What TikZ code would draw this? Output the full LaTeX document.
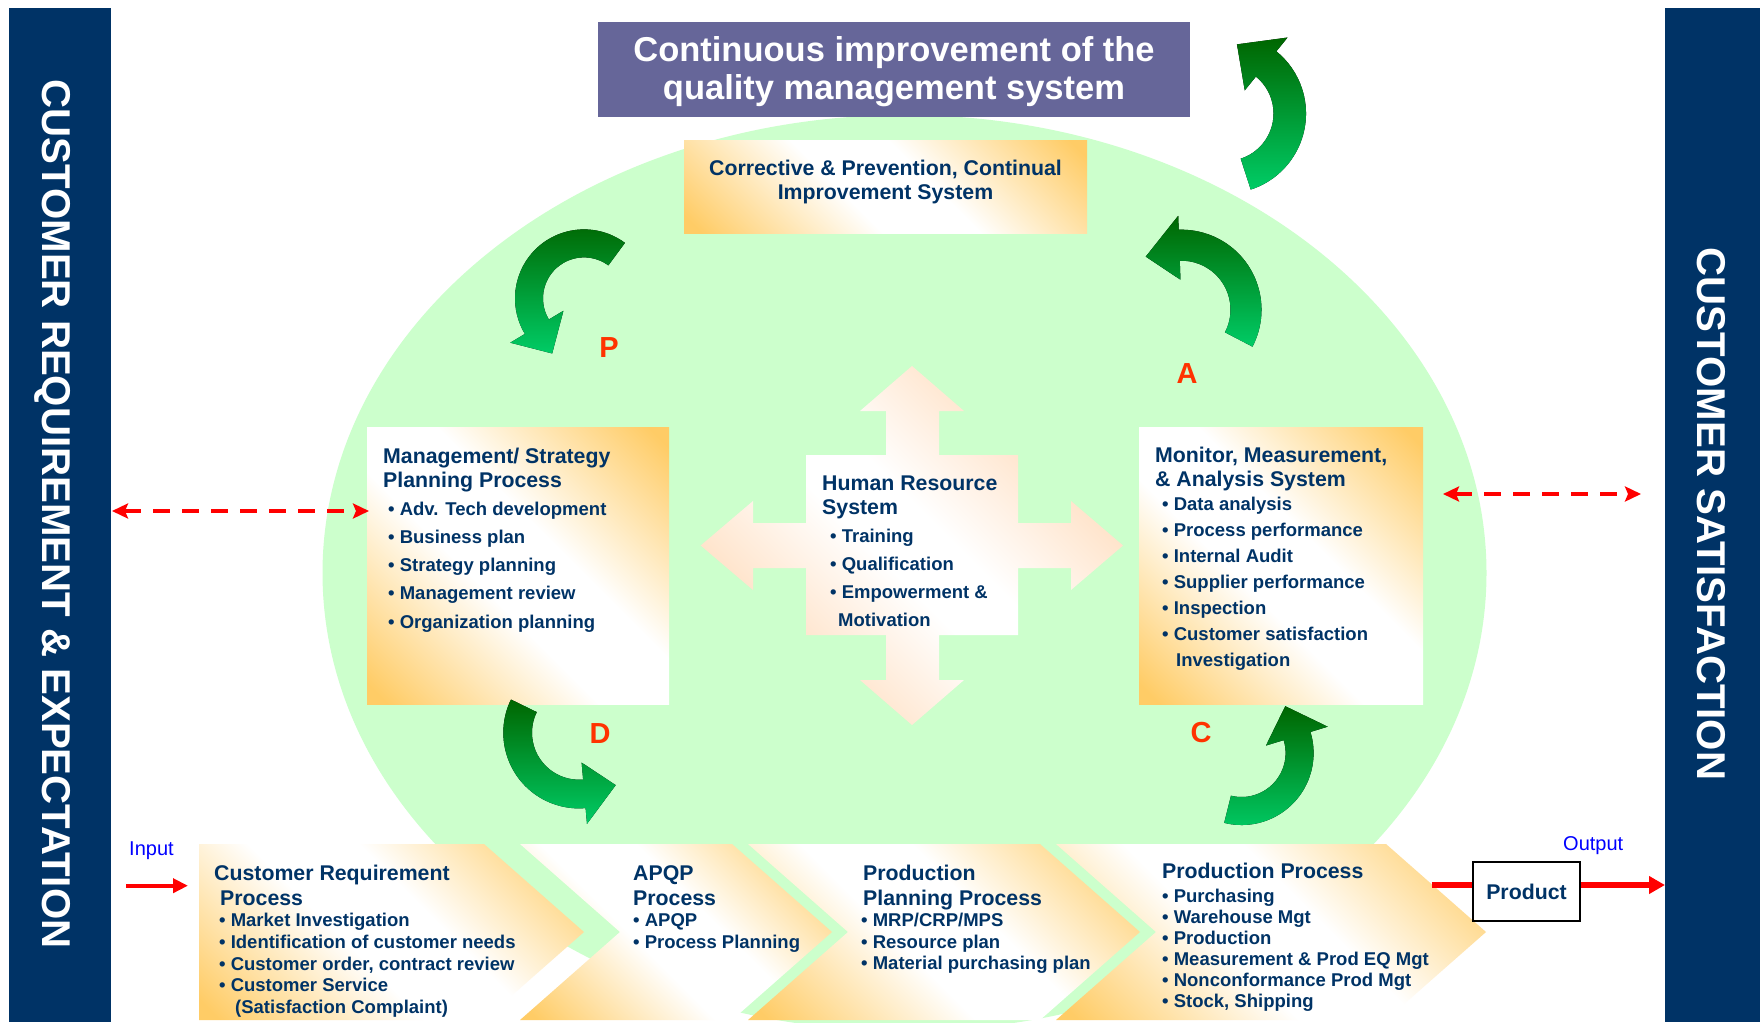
\documentclass[tikz,border=0pt]{standalone}
\usepackage{fontspec}
\setmainfont{Liberation Sans}
\usetikzlibrary{arrows.meta}
\definecolor{navy}{RGB}{0,51,102}
\definecolor{qpurple}{RGB}{102,102,153}
\definecolor{lgreen}{RGB}{204,255,204}
\definecolor{orng}{RGB}{255,204,102}
\definecolor{peach}{RGB}{255,200,150}
\definecolor{lred}{RGB}{255,51,0}
\definecolor{gdark}{RGB}{0,102,0}
\definecolor{glight}{RGB}{0,204,102}
\pgfdeclareverticalshading{diagor}{100bp}{color(0bp)=(orng); color(17bp)=(orng); color(43bp)=(white); color(57bp)=(white); color(83bp)=(orng); color(100bp)=(orng)}
\pgfdeclareverticalshading{diagpe}{100bp}{color(0bp)=(peach); color(15bp)=(peach); color(46bp)=(white); color(54bp)=(white); color(85bp)=(peach); color(100bp)=(peach)}
\newcommand{\ttlf}{\fontsize{21.3pt}{24pt}\selectfont\bfseries}
\newcommand{\bulf}[1]{\fontsize{18.5pt}{#1}\selectfont\bfseries}
\newcommand{\myb}{\textbullet\ }
\begin{document}
\begin{tikzpicture}[x=1pt,y=1pt,
  box/.style={shade, shading=diagor, shading angle=-45, inner sep=0, anchor=north west},
  chev/.style={shading=diagor, shading angle=-45},
  txt/.style={anchor=base west, inner sep=0, text=navy},
  garrow/.style={top color=gdark, bottom color=glight},
  letter/.style={font=\fontsize{29pt}{29pt}\selectfont\bfseries, text=lred, inner sep=0},
  dred/.style={red, line width=4.5pt, dash pattern=on 17pt off 12pt,
    arrows={Stealth[length=16pt,width=15pt,inset=3pt]-Stealth[length=16pt,width=15pt,inset=3pt]}},
  bartxt/.style={rotate=-90, text=white, font=\fontsize{40.2pt}{41pt}\selectfont\bfseries, inner sep=0},
  bluetxt/.style={anchor=base west, inner sep=0, text=blue, font=\fontsize{20pt}{20pt}\selectfont}]
\useasboundingbox (0,0) rectangle (1760,-1022);
\fill[white] (0,0) rectangle (1760,-1022);
% green ellipse
\begin{scope}
\clip (0,0) rectangle (1760,-1022);
\fill[lgreen] (904.5,-573) ellipse [x radius=582, y radius=458];
\end{scope}
% title box
\node[fill=qpurple, minimum width=592pt, minimum height=95pt, inner sep=0, anchor=north west] (ttlbox) at (598,-22) {};
\node[anchor=base, inner sep=0, text=white] (ttl) at (894,-62) {\begin{minipage}[t]{590pt}\centering\fontsize{34.5pt}{38pt}\selectfont\bfseries Continuous improvement of the\\quality management system\end{minipage}};
% boxes
\node[box, minimum width=403pt, minimum height=93pt] (corr) at (684,-140) {};
\node[anchor=base, inner sep=0, text=navy] (corrT) at (885.5,-175.5) {\begin{minipage}[t]{400pt}\centering\ttlf Corrective \& Prevention, Continual\\Improvement System\end{minipage}};
\node[box, minimum width=302pt, minimum height=277pt] (mgmt) at (367,-427) {};
\node[box, minimum width=284pt, minimum height=277pt] (mon) at (1139,-427) {};
% cross arrow
\shade[chev, shading=diagpe] (912,-366) -- (964,-411) -- (939,-411) -- (939,-455) -- (1018,-455) -- (1018,-523) -- (1071,-523) -- (1071,-501) -- (1123,-545.5) -- (1071,-590) -- (1071,-568) -- (1018,-568) -- (1018,-635) -- (939,-635) -- (939,-680) -- (964,-680) -- (912,-725) -- (860,-680) -- (886,-680) -- (886,-635) -- (806,-635) -- (806,-568) -- (753,-568) -- (753,-590) -- (700.7,-545.5) -- (753,-501) -- (753,-523) -- (806,-523) -- (806,-455) -- (886,-455) -- (886,-411) -- (860,-411) -- cycle;
% box texts
\node[txt] (mgmtT) at (383,-463) {\begin{minipage}[t]{285pt}\ttlf Management/ Strategy\\Planning Process\par\bulf{28.2pt}\hspace*{5pt}\myb Adv. Tech development\\\hspace*{5pt}\myb Business plan\\\hspace*{5pt}\myb Strategy planning\\\hspace*{5pt}\myb Management review\\\hspace*{5pt}\myb Organization planning\end{minipage}};
\node[txt] (monT) at (1155,-462) {\begin{minipage}[t]{285pt}\ttlf Monitor, Measurement,\\\& Analysis System\par\bulf{26pt}\vspace*{-2pt}\hspace*{7pt}\myb Data analysis\\\hspace*{7pt}\myb Process performance\\\hspace*{7pt}\myb Internal Audit\\\hspace*{7pt}\myb Supplier performance\\\hspace*{7pt}\myb Inspection\\\hspace*{7pt}\myb Customer satisfaction\\\hspace*{21pt}Investigation\end{minipage}};
\node[txt] (hrT) at (822,-490) {\begin{minipage}[t]{200pt}\ttlf Human Resource\\System\par\bulf{28pt}\hspace*{8pt}\myb Training\\\hspace*{8pt}\myb Qualification\\\hspace*{8pt}\myb Empowerment \&\\\hspace*{16pt}Motivation\end{minipage}};
% green curved arrows
\fill[garrow, shift={(1226,-113.5)}] (-72:80) arc[start angle=-72, end angle=51, radius=80] -- (51:97.75) -- (81:70) -- (51:29.75) -- (51:47.5) arc[start angle=51, end angle=-72, radius=47.5] -- cycle;
\fill[garrow, shift={(584,-298.4)}] (53.6:69) arc[start angle=53.6, end angle=211, radius=69] -- (211:86) -- (240:63.6) -- (211:24) -- (211:41) arc[start angle=211, end angle=53.6, radius=41] -- cycle;
\fill[garrow, shift={(1181.5,-309.7)}] (-27.5:80) arc[start angle=-27.5, end angle=92, radius=80] -- (92:94) -- (124:64) -- (92:30) -- (92:49) arc[start angle=92, end angle=-27.5, radius=49] -- cycle;
\fill[garrow, shift={(579,-732.7)}] (154:75.7) arc[start angle=154, end angle=275, radius=75.7] -- (275:91.5) -- (305:64) -- (275:30) -- (275:47) arc[start angle=275, end angle=154, radius=47] -- cycle;
\fill[garrow, shift={(1241.6,-753)}] (-104:72) arc[start angle=-104, end angle=17, radius=72] -- (17:90) -- (47:64) -- (17:25.5) -- (17:44) arc[start angle=17, end angle=-104, radius=44] -- cycle;
% PDCA letters
\node[letter] (lP) at (609,-348) {P};
\node[letter] (lA) at (1187,-374) {A};
\node[letter] (lD) at (600,-734) {D};
\node[letter] (lC) at (1201,-733) {C};
% chevrons
\shade[chev] (199,-844) -- (484,-844) -- (584,-932) -- (484,-1020) -- (199,-1020) -- cycle;
\shade[chev] (520,-844) -- (732,-844) -- (832,-932) -- (732,-1020) -- (520,-1020) -- (620,-932) -- cycle;
\shade[chev] (748,-844) -- (1040,-844) -- (1140,-932) -- (1040,-1020) -- (748,-1020) -- (848,-932) -- cycle;
\shade[chev] (1056,-844) -- (1386,-844) -- (1486,-932) -- (1386,-1020) -- (1056,-1020) -- (1156,-932) -- cycle;
\node[txt] (ch1T) at (214,-880) {\begin{minipage}[t]{330pt}\fontsize{21.3pt}{25pt}\selectfont\bfseries Customer Requirement\\\hspace*{6pt}Process\par\bulf{21.7pt}\hspace*{5pt}\myb Market Investigation\\\hspace*{5pt}\myb Identification of customer needs\\\hspace*{5pt}\myb Customer order, contract review\\\hspace*{5pt}\myb Customer Service\\\hspace*{21pt}(Satisfaction Complaint)\end{minipage}};
\node[txt] (ch2T) at (633,-880) {\begin{minipage}[t]{200pt}\fontsize{21.3pt}{25pt}\selectfont\bfseries APQP\\Process\par\bulf{21.5pt}\myb APQP\\\myb Process Planning\end{minipage}};
\node[txt] (ch3T) at (863,-880) {\begin{minipage}[t]{250pt}\fontsize{21.3pt}{25pt}\selectfont\bfseries Production\\Planning Process\par\bulf{21.5pt}\hspace*{-2pt}\myb MRP/CRP/MPS\\\hspace*{-2pt}\myb Resource plan\\\hspace*{-2pt}\myb Material purchasing plan\end{minipage}};
\node[txt] (ch4T) at (1162,-878) {\begin{minipage}[t]{300pt}\fontsize{21.3pt}{25pt}\selectfont\bfseries Production Process\par\bulf{21pt}\vspace*{3pt}\myb Purchasing\\\myb Warehouse Mgt\\\myb Production\\\myb Measurement \& Prod EQ Mgt\\\myb Nonconformance Prod Mgt\\\myb Stock, Shipping\end{minipage}};
% side bars
\node[fill=navy, minimum width=102pt, minimum height=1014pt, inner sep=0, anchor=north west] (lbar) at (9,-8) {};
\node[bartxt] (lbarT) at (53,-514) {CUSTOMER REQUIREMENT \& EXPECTATION};
\node[fill=navy, minimum width=95pt, minimum height=1014pt, inner sep=0, anchor=north west] (rbar) at (1665,-8) {};
\node[bartxt] (rbarT) at (1711,-514) {CUSTOMER SATISFACTION};
% dashed red double arrows
\coordinate (dlA) at (112,-511);
\coordinate (dlB) at (369,-511);
\coordinate (drA) at (1443,-494);
\coordinate (drB) at (1641,-494);
\draw[dred] (dlA) -- (dlB);
\draw[dred] (drA) -- (drB);
% input / output
\node[bluetxt] (inL) at (129,-855) {Input};
\coordinate (inA) at (126,-885.7);
\coordinate (inB) at (188,-885.7);
\draw[red, line width=4pt, -{Triangle[length=15pt,width=14pt]}] (inA) -- (inB);
\node[bluetxt] (outL) at (1563,-850) {Output};
\node[draw=black, line width=2.5pt, fill=white, minimum width=107pt, minimum height=59pt, inner sep=0, font=\ttlf, text=navy] (prod) at (1526.5,-891.5) {Product};
\coordinate (c4out) at (1432,-885);
\coordinate (outtip) at (1665,-885);
\draw[red, line width=6pt] (c4out) -- (prod.west |- c4out);
\draw[red, line width=6pt, -{Triangle[length=16pt,width=17pt]}] (prod.east |- c4out) -- (outtip);
\end{tikzpicture}
\end{document}
